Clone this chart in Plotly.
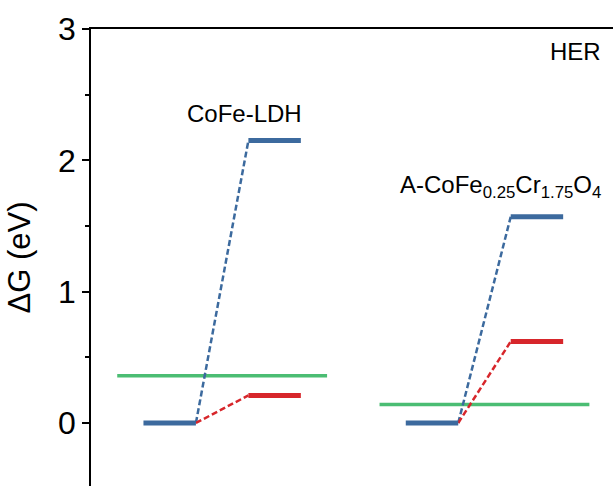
import plotly.graph_objects as go

# Free-energy diagram data (eV)
catalysts = ["CoFe-LDH", "A-CoFe<sub>0.25</sub>Cr<sub>1.75</sub>O<sub>4</sub>"]
initial_dG = [0.0, 0.0]
blue_dG = [2.15, 1.57]
red_dG = [0.21, 0.62]
green_dG = [0.36, 0.14]
y_ticks = [0, 1, 2, 3]

BLUE = "#3c6a9e"
RED = "#d7262b"
GREEN = "#4bbd73"
FONT = "Liberation Sans, Arial, sans-serif"

fig = go.Figure()

for i in range(len(catalysts)):
    o = 5 * i
    # reference level
    fig.add_trace(go.Scatter(x=[o + 0.5, o + 4.5], y=[green_dG[i], green_dG[i]],
                             mode="lines", line=dict(color=GREEN, width=3.5),
                             hoverinfo="skip"))
    # dashed connectors
    fig.add_trace(go.Scatter(x=[o + 2, o + 3], y=[initial_dG[i], blue_dG[i]],
                             mode="lines", line=dict(color=BLUE, width=2.5, dash="6px,3px"),
                             hoverinfo="skip"))
    fig.add_trace(go.Scatter(x=[o + 2, o + 3], y=[initial_dG[i], red_dG[i]],
                             mode="lines", line=dict(color=RED, width=2.5, dash="6px,3px"),
                             hoverinfo="skip"))
    # energy levels
    fig.add_trace(go.Scatter(x=[o + 1, o + 2], y=[initial_dG[i], initial_dG[i]],
                             mode="lines", line=dict(color=BLUE, width=5),
                             hoverinfo="skip"))
    fig.add_trace(go.Scatter(x=[o + 3, o + 4], y=[red_dG[i], red_dG[i]],
                             mode="lines", line=dict(color=RED, width=5),
                             hoverinfo="skip"))
    fig.add_trace(go.Scatter(x=[o + 3, o + 4], y=[blue_dG[i], blue_dG[i]],
                             mode="lines", line=dict(color=BLUE, width=5),
                             hoverinfo="skip"))

# catalyst labels
fig.add_annotation(x=2.93, y=2.36, text=catalysts[0], showarrow=False,
                   font=dict(size=24, color="black", family=FONT))
fig.add_annotation(x=7.8, y=1.8, text=catalysts[1], showarrow=False,
                   font=dict(size=24, color="black", family=FONT))
fig.add_annotation(x=1, xref="paper", xanchor="right", xshift=-10, y=2.83,
                   text="HER", showarrow=False,
                   font=dict(size=24, color="black", family=FONT))

fig.update_layout(
    width=613, height=486,
    margin=dict(l=91, r=0, t=29, b=0),
    paper_bgcolor="white", plot_bgcolor="white",
    showlegend=False,
    font=dict(family=FONT, color="black"),
    xaxis=dict(range=[0, 9.95], side="top", showline=True, linecolor="black",
               linewidth=1.5, showticklabels=False, ticks="", showgrid=False,
               zeroline=False, fixedrange=True),
    yaxis=dict(range=[-0.48, 3], tickvals=y_ticks, ticks="outside", ticklen=7,
               tickwidth=1.5, tickcolor="black", showline=True, linecolor="black",
               linewidth=1.5, showgrid=False, zeroline=False,
               tickfont=dict(size=32, color="black", family=FONT),
               minor=dict(ticks="outside", ticklen=4, tickwidth=1.5,
                          tickcolor="black", dtick=0.5, showgrid=False),
               title=dict(text="ΔG (eV)", standoff=18,
                          font=dict(size=31, color="black", family=FONT))),
)

fig.write_html("out.html")
